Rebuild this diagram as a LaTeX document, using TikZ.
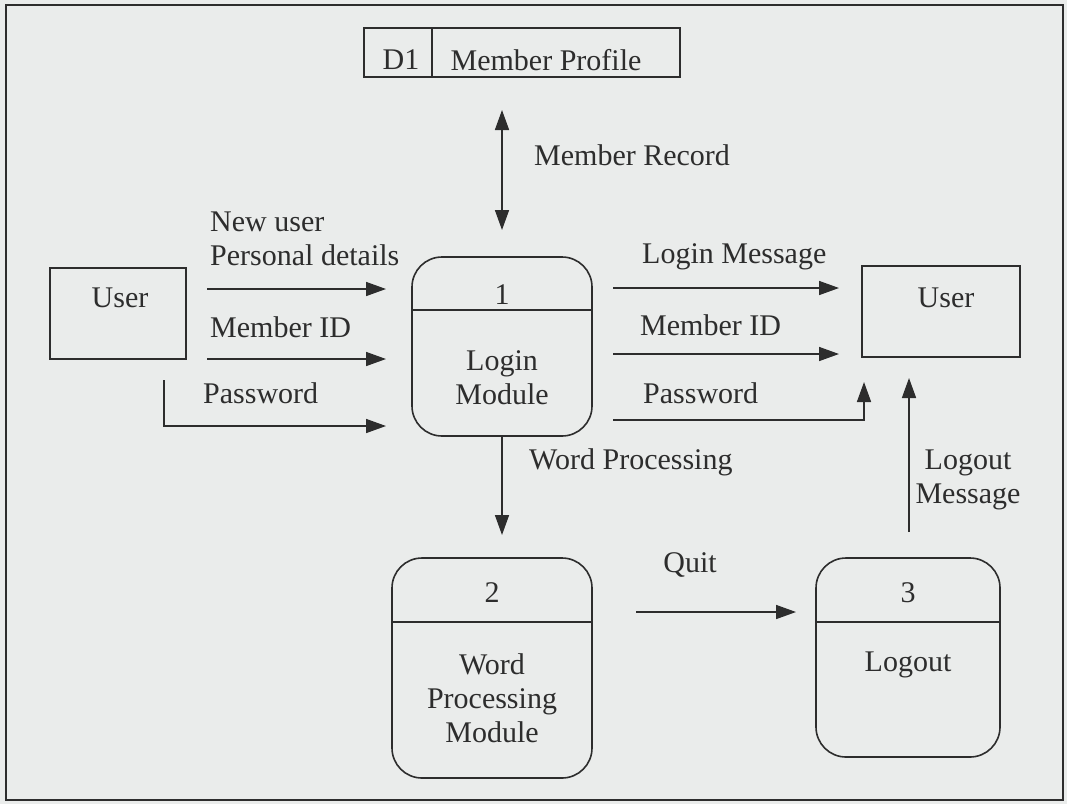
\documentclass[tikz,border=0pt]{standalone}
\usepackage{fontspec}
\setmainfont{Liberation Serif}
\usetikzlibrary{arrows.meta}
\definecolor{paper}{RGB}{234,236,235}
\definecolor{ink}{RGB}{45,45,45}
\tikzset{
  every node/.style={font=\fontsize{30}{34}\selectfont, text=ink, inner sep=0pt},
  flow/.style={draw=ink, line width=1.6pt, -{Triangle[length=20pt,width=14pt]}},
  biflow/.style={draw=ink, line width=1.6pt, {Triangle[length=20pt,width=14pt]}-{Triangle[length=20pt,width=14pt]}},
  entity/.style={draw=ink, line width=1.6pt, rectangle},
  proc/.style={draw=ink, line width=1.6pt, rectangle, rounded corners=30pt},
  divider/.style={draw=ink, line width=1.6pt},
  lbl/.style={anchor=west},
}
\begin{document}
\begin{tikzpicture}[x=1pt,y=-1pt]
  % page and outer frame
  \fill[paper] (0,0) rectangle (1067,804);
  \useasboundingbox (0,0) rectangle (1067,804);
  \draw[ink, line width=2pt] (6,5) rectangle (1063,800);

  % data store D1
  \node[entity, minimum width=316pt, minimum height=49pt] (d1) at (522,52.5) {};
  \draw[divider] (432,28) -- (432,77);
  \node (d1id) at (401,60) {D1};
  \node (d1name) at (546,60) {Member Profile};

  % external entities
  \node[entity, minimum width=136pt, minimum height=91pt] (userL) at (118,313.5) {};
  \node (userLt) at (120,298) {User};
  \node[entity, minimum width=158pt, minimum height=91pt] (userR) at (941,311.5) {};
  \node (userRt) at (946,298) {User};

  % process 1: Login Module
  \node[proc, minimum width=180pt, minimum height=179pt] (p1) at (502,346.5) {};
  \draw[divider] (p1.west |- 0,310) -- (p1.east |- 0,310);
  \node (p1n) at (502,295) {1};
  \node[align=center] (p1t) at (502,378) {Login\\Module};

  % process 2: Word Processing Module
  \node[proc, minimum width=200pt, minimum height=220pt] (p2) at (492,668) {};
  \draw[divider] (p2.west |- 0,622) -- (p2.east |- 0,622);
  \node (p2n) at (492,593) {2};
  \node[align=center] (p2t) at (492,698) {Word\\Processing\\Module};

  % process 3: Logout
  \node[proc, minimum width=184pt, minimum height=199pt] (p3) at (908,657.5) {};
  \draw[divider] (p3.west |- 0,622) -- (p3.east |- 0,622);
  \node (p3n) at (908,593) {3};
  \node (p3t) at (908,665) {Logout};

  % flow end points
  \coordinate (mrA) at (502,110);
  \coordinate (mrB) at (502,230);
  \coordinate (inA1) at (207,289);  \coordinate (inB1) at (386,289);
  \coordinate (inA2) at (207,359);  \coordinate (inB2) at (386,359);
  \coordinate (inA3) at (164,380);  \coordinate (inB3) at (386,426);
  \coordinate (outA1) at (613,288); \coordinate (outB1) at (839,288);
  \coordinate (outA2) at (613,354); \coordinate (outB2) at (839,354);
  \coordinate (outA3) at (613,420); \coordinate (outB3) at (864,382);
  \coordinate (loA) at (909,532);   \coordinate (loB) at (909,378);
  \coordinate (wpB) at (502,535);
  \coordinate (qA) at (636,612);    \coordinate (qB) at (796,612);

  % data flows
  \draw[biflow] (mrA) -- (mrB);
  \draw[flow] (inA1) -- (inB1);
  \draw[flow] (inA2) -- (inB2);
  \draw[flow] (inA3) |- (inB3);
  \draw[flow] (outA1) -- (outB1);
  \draw[flow] (outA2) -- (outB2);
  \draw[flow] (outA3) -| (outB3);
  \draw[flow] (loA) -- (loB);
  \draw[flow] (p1.south) -- (wpB);
  \draw[flow] (qA) -- (qB);

  % flow labels
  \node[lbl] (lmr) at (534,155) {Member Record};
  \node[lbl, align=left] (lnew) at (210,239) {New user\\Personal details};
  \node[lbl] (lid1) at (210,327) {Member ID};
  \node[lbl] (lpw1) at (203,393) {Password};
  \node[lbl] (llm) at (642,257) {Login Message};
  \node[lbl] (lid2) at (640,325) {Member ID};
  \node[lbl] (lpw2) at (643,393) {Password};
  \node[lbl] (lwp) at (529,462) {Word Processing};
  \node[align=center] (llo) at (968,480) {Logout\\Message};
  \node (lq) at (690,565) {Quit};
\end{tikzpicture}
\end{document}
